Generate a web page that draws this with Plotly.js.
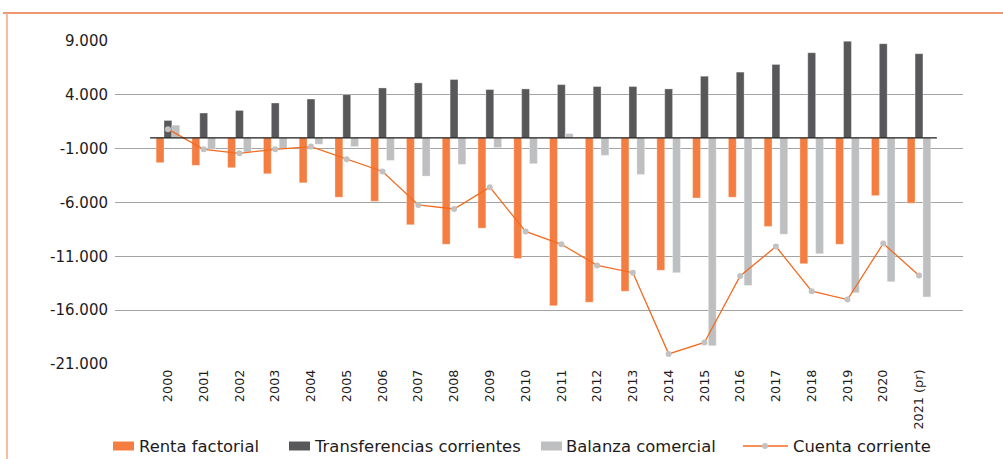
<!DOCTYPE html>
<html>
<head>
<meta charset="utf-8">
<script src="https://cdn.plot.ly/plotly-3.0.1.min.js"></script>
<style>
html,body{margin:0;padding:0;background:#fff;}
#chart{width:1003px;height:459px;}
</style>
</head>
<body>
<div id="chart"></div>
<script>
const years = ['2000','2001','2002','2003','2004','2005','2006','2007','2008','2009','2010','2011','2012','2013','2014','2015','2016','2017','2018','2019','2020','2021 (pr)'];
const rentaFactorial = [-2300,-2550,-2770,-3330,-4170,-5510,-5890,-8070,-9880,-8380,-11210,-15580,-15260,-14240,-12300,-5580,-5510,-8220,-11680,-9880,-5360,-6070];
const transferencias = [1620,2310,2550,3240,3610,4020,4640,5110,5420,4490,4550,4950,4770,4770,4550,5730,6110,6820,7910,8970,8750,7820];
const balanzaComercial = [1180,-1060,-1310,-1000,-590,-810,-2090,-3550,-2460,-900,-2400,400,-1620,-3400,-12520,-19310,-13710,-8940,-10750,-14390,-13360,-14770];
const cuentaCorriente = [810,-1060,-1430,-1060,-810,-1990,-3120,-6230,-6600,-4580,-8690,-9880,-11840,-12520,-20060,-19000,-12830,-10090,-14240,-15020,-9810,-12770];
const yTickVals = [9000,4000,-1000,-6000,-11000,-16000,-21000];
const yTickText = ['9.000','4.000','-1.000','-6.000','-11.000','-16.000','-21.000'];
const legendNames = ['Renta factorial','Transferencias corrientes','Balanza comercial','Cuenta corriente'];

const C_OR = '#F47D41', C_DK = '#58585A', C_LT = '#BEBFC1', C_LINE = '#F26B21', C_MK = '#C2C2C2';

// plot area in pixels
const L = 115, R = 963, T = 41, B = 364;
const px = p => (p - L) / (R - L);
const py = p => (B - p) / (B - T);

const barLine = {color:'rgba(255,255,255,0.55)', width:0.6};
const traces = [
  {type:'bar', name:legendNames[0], x:years, y:rentaFactorial, marker:{color:C_OR, line:barLine}, hoverinfo:'y'},
  {type:'bar', name:legendNames[1], x:years, y:transferencias, marker:{color:C_DK, line:barLine}, hoverinfo:'y'},
  {type:'bar', name:legendNames[2], x:years, y:balanzaComercial, marker:{color:C_LT, line:barLine}, hoverinfo:'y'},
  {type:'scatter', mode:'lines+markers', name:legendNames[3], x:years, y:cuentaCorriente,
   line:{color:C_LINE, width:1.3}, marker:{color:C_MK, size:6}, hoverinfo:'y'}
];

const shapes = [
  // zero baseline across category band
  {type:'line', xref:'x', yref:'y', x0:-0.5, x1:21.5, y0:0, y1:0, line:{color:'#1a1a1a', width:1.4}},
  // orange frame
  {type:'line', xref:'paper', yref:'paper', x0:px(3), x1:px(1003), y0:py(13), y1:py(13), line:{color:'#EA7440', width:1.5}},
  {type:'line', xref:'paper', yref:'paper', x0:px(7), x1:px(7), y0:py(13), y1:py(470), line:{color:'#F7A97F', width:1.5}},
];
const legY = 446;
const rects = [[113,134,C_OR],[289,310,C_DK],[541,562,C_LT]];
rects.forEach(r => shapes.push({type:'rect', xref:'paper', yref:'paper', x0:px(r[0]), x1:px(r[1]), y0:py(legY+4.5), y1:py(legY-4.5), fillcolor:r[2], line:{width:0}}));
shapes.push({type:'line', xref:'paper', yref:'paper', x0:px(743), x1:px(788), y0:py(legY), y1:py(legY), line:{color:C_LINE, width:1.3}});
shapes.push({type:'circle', xref:'paper', yref:'paper', x0:px(762), x1:px(768), y0:py(legY+3), y1:py(legY-3), fillcolor:C_MK, line:{width:0}});

const legX = [138, 313, 565, 792];
const annotations = legendNames.map((n,i) => ({
  xref:'paper', yref:'paper', x:px(legX[i]), y:py(legY), xanchor:'left', yanchor:'middle',
  text:n, showarrow:false, borderpad:0,
  font:{family:'DejaVu Sans', size:16.4, color:'#1E1B1C'}
}));

const layout = {
  width:1003, height:459,
  margin:{l:L, r:1003-R, t:T, b:459-B, pad:0},
  paper_bgcolor:'#fff', plot_bgcolor:'#fff',
  showlegend:false,
  barmode:'group', bargap:0.34, bargroupgap:0,
  xaxis:{type:'category', range:[-1.48, 22.23], showgrid:false, zeroline:false, showline:false,
    ticks:'', tickangle:-90, tickfont:{family:'DejaVu Sans', size:12.8, color:'#1E1B1C'}, ticklabelstandoff:2, fixedrange:true},
  yaxis:{range:[-21000, 9000], tickvals:yTickVals, ticktext:yTickText, showgrid:true, gridcolor:'#A3A3A3', gridwidth:1,
    zeroline:false, showline:false, ticks:'', tickfont:{family:'DejaVu Sans', size:15, color:'#1E1B1C'}, ticklabelstandoff:6, fixedrange:true},
  shapes:shapes,
  annotations:annotations
};
Plotly.newPlot('chart', traces, layout, {displayModeBar:false, staticPlot:true});
</script>
</body>
</html>
